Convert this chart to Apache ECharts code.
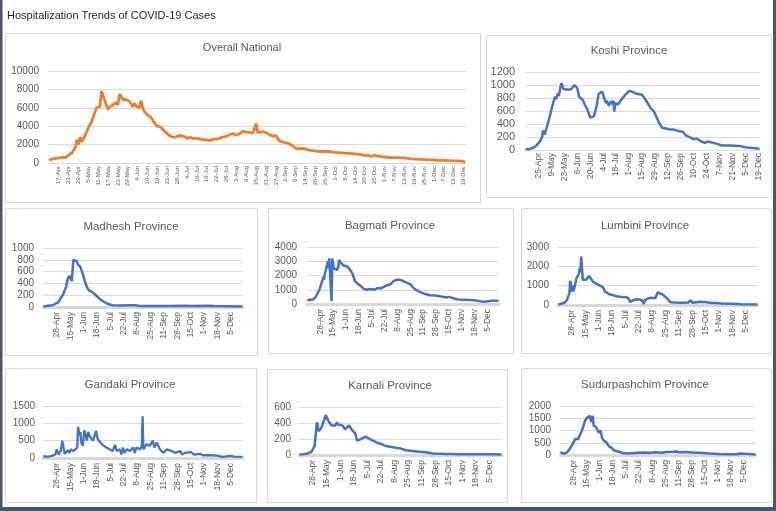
<!DOCTYPE html>
<html>
<head>
<meta charset="utf-8">
<script src="https://cdn.jsdelivr.net/npm/echarts@6/dist/echarts.min.js"></script>
<style>html,body{margin:0;padding:0;background:#fff;}#c{width:776px;height:511px;}</style>
</head>
<body>
<div id="c"></div>
<script>
// ---------- DATA ----------
const chartTitle = 'Hospitalization Trends of COVID-19 Cases';
const panelTitles = ['Overall National','Koshi Province','Madhesh Province','Bagmati Province','Lumbini Province','Gandaki Province','Karnali Province','Sudurpashchim Province'];

const nationalTicks = ['17-Apr','23-Apr','29-Apr','5-May','11-May','17-May','23-May','29-May','4-Jun','10-Jun','16-Jun','22-Jun','28-Jun','4-Jul','10-Jul','16-Jul','22-Jul','28-Jul','3-Aug','9-Aug','15-Aug','21-Aug','27-Aug','2-Sep','8-Sep','14-Sep','20-Sep','26-Sep','2-Oct','8-Oct','14-Oct','20-Oct','26-Oct','1-Nov','7-Nov','13-Nov','19-Nov','25-Nov','1-Dec','7-Dec','13-Dec','19-Dec'];
const koshiTicks = ['25-Apr','9-May','23-May','6-Jun','20-Jun','4-Jul','18-Jul','1-Aug','15-Aug','29-Aug','12-Sep','26-Sep','10-Oct','24-Oct','7-Nov','21-Nov','5-Dec','19-Dec'];
const provinceTicks = ['28-Apr','15-May','1-Jun','18-Jun','5-Jul','22-Jul','8-Aug','25-Aug','11-Sep','28-Sep','15-Oct','1-Nov','18-Nov','5-Dec'];

const national = [['11-Apr',350],['14-Apr',450],['17-Apr',550],['19-Apr',600],['21-Apr',600],['23-Apr',850],['25-Apr',1100],['27-Apr',1600],['28-Apr',2500],['29-Apr',2000],['30-Apr',2800],['1-May',2300],['2-May',2600],['3-May',3000],['5-May',3800],['7-May',4500],['9-May',5500],['10-May',6000],['11-May',6100],['12-May',6100],['13-May',7800],['14-May',7300],['15-May',6800],['16-May',6600],['17-May',5800],['18-May',6100],['20-May',6300],['22-May',6600],['23-May',6300],['24-May',7500],['25-May',7400],['26-May',6900],['28-May',6900],['30-May',6700],['31-May',6500],['1-Jun',6100],['2-Jun',6500],['3-Jun',6200],['4-Jun',6100],['5-Jun',6000],['6-Jun',6800],['7-Jun',6000],['8-Jun',5600],['10-Jun',5200],['12-Jun',5000],['14-Jun',4400],['16-Jun',4000],['18-Jun',3900],['20-Jun',3500],['22-Jun',3200],['24-Jun',2900],['26-Jun',2800],['28-Jun',2900],['30-Jun',3000],['2-Jul',2900],['4-Jul',2700],['6-Jul',2800],['8-Jul',2650],['10-Jul',2700],['12-Jul',2600],['14-Jul',2550],['16-Jul',2500],['18-Jul',2450],['20-Jul',2600],['22-Jul',2600],['24-Jul',2700],['26-Jul',2850],['28-Jul',2900],['30-Jul',3100],['1-Aug',3200],['3-Aug',3000],['5-Aug',3200],['7-Aug',3450],['9-Aug',3350],['11-Aug',3300],['13-Aug',3250],['14-Aug',3300],['15-Aug',4300],['16-Aug',3300],['17-Aug',3500],['19-Aug',3400],['21-Aug',3300],['23-Aug',3100],['25-Aug',2900],['26-Aug',2800],['27-Aug',3000],['28-Aug',2900],['29-Aug',2400],['31-Aug',2300],['2-Sep',2200],['4-Sep',2100],['6-Sep',1900],['8-Sep',1600],['10-Sep',1550],['12-Sep',1600],['14-Sep',1500],['16-Sep',1400],['18-Sep',1350],['20-Sep',1300],['24-Sep',1250],['28-Sep',1250],['2-Oct',1150],['6-Oct',1100],['10-Oct',1050],['14-Oct',1000],['18-Oct',900],['20-Oct',800],['22-Oct',850],['24-Oct',700],['26-Oct',850],['28-Oct',750],['1-Nov',650],['5-Nov',600],['9-Nov',580],['13-Nov',550],['17-Nov',450],['21-Nov',420],['25-Nov',380],['29-Nov',350],['3-Dec',300],['7-Dec',280],['11-Dec',250],['15-Dec',230],['18-Dec',200],['20-Dec',100]];

const koshi = [['11-Apr',10],['15-Apr',15],['18-Apr',25],['20-Apr',40],['23-Apr',70],['25-Apr',100],['27-Apr',140],['29-Apr',200],['30-Apr',300],['1-May',320],['2-May',240],['3-May',300],['5-May',400],['7-May',500],['9-May',620],['11-May',730],['13-May',820],['14-May',780],['15-May',800],['16-May',870],['17-May',830],['19-May',980],['20-May',1030],['21-May',1020],['22-May',940],['24-May',940],['26-May',930],['28-May',945],['30-May',930],['1-Jun',900],['3-Jun',1000],['5-Jun',1010],['6-Jun',950],['8-Jun',820],['10-Jun',790],['12-Jun',770],['14-Jun',700],['16-Jun',650],['18-Jun',580],['20-Jun',500],['22-Jun',480],['24-Jun',520],['26-Jun',540],['27-Jun',680],['29-Jun',860],['1-Jul',860],['3-Jul',900],['5-Jul',800],['7-Jul',720],['8-Jul',760],['10-Jul',680],['12-Jul',750],['14-Jul',700],['15-Jul',760],['16-Jul',590],['17-Jul',720],['20-Jul',700],['22-Jul',720],['24-Jul',780],['26-Jul',800],['28-Jul',850],['30-Jul',880],['1-Aug',910],['4-Aug',900],['8-Aug',870],['11-Aug',860],['13-Aug',840],['15-Aug',850],['17-Aug',810],['19-Aug',770],['22-Aug',700],['24-Aug',650],['28-Aug',590],['30-Aug',560],['2-Sep',430],['4-Sep',380],['6-Sep',340],['10-Sep',330],['13-Sep',320],['15-Sep',300],['19-Sep',310],['21-Sep',280],['24-Sep',290],['28-Sep',280],['1-Oct',230],['5-Oct',200],['9-Oct',170],['14-Oct',170],['18-Oct',130],['22-Oct',110],['25-Oct',130],['31-Oct',110],['5-Nov',90],['9-Nov',70],['18-Nov',70],['29-Nov',60],['6-Dec',40],['13-Dec',30],['20-Dec',20]];

const madhesh = [['11-Apr',10],['17-Apr',20],['23-Apr',30],['27-Apr',60],['30-Apr',80],['3-May',150],['6-May',210],['8-May',240],['10-May',350],['12-May',480],['14-May',530],['15-May',500],['16-May',540],['17-May',440],['18-May',600],['19-May',800],['21-May',810],['23-May',780],['25-May',720],['27-May',750],['28-May',680],['31-May',560],['2-Jun',470],['4-Jun',380],['6-Jun',320],['8-Jun',280],['11-Jun',260],['15-Jun',220],['19-Jun',170],['23-Jun',120],['28-Jun',80],['2-Jul',50],['8-Jul',30],['17-Jul',25],['1-Aug',30],['6-Aug',30],['12-Aug',15],['15-Sep',15],['6-Oct',20],['18-Oct',15],['5-Nov',22],['15-Nov',15],['20-Dec',10]];

const bagmati = [['11-Apr',250],['14-Apr',300],['18-Apr',300],['20-Apr',330],['22-Apr',500],['24-Apr',700],['27-Apr',1000],['29-Apr',1100],['1-May',1700],['2-May',1900],['3-May',1700],['4-May',2100],['5-May',2300],['7-May',2400],['8-May',3000],['9-May',2500],['10-May',3200],['12-May',3200],['13-May',200],['14-May',3200],['15-May',3100],['16-May',2500],['18-May',2500],['20-May',2400],['22-May',2600],['23-May',3100],['25-May',2900],['27-May',2800],['29-May',2700],['31-May',2600],['2-Jun',2650],['5-Jun',2500],['7-Jun',2400],['9-Jun',2200],['11-Jun',1900],['13-Jun',1600],['17-Jun',1400],['20-Jun',1300],['22-Jun',1200],['25-Jun',1050],['29-Jun',1000],['3-Jul',1050],['8-Jul',1000],['12-Jul',1100],['17-Jul',1100],['21-Jul',1200],['25-Jul',1300],['30-Jul',1400],['3-Aug',1600],['7-Aug',1700],['12-Aug',1700],['16-Aug',1600],['20-Aug',1500],['25-Aug',1400],['28-Aug',1200],['31-Aug',1050],['5-Sep',900],['9-Sep',800],['14-Sep',700],['20-Sep',620],['27-Sep',600],['3-Oct',550],['8-Oct',500],['12-Oct',450],['16-Oct',500],['21-Oct',400],['27-Oct',320],['5-Nov',300],['14-Nov',280],['20-Nov',250],['25-Nov',200],['29-Nov',150],['6-Dec',200],['10-Dec',220],['20-Dec',230]];

const lumbini = [['11-Apr',30],['15-Apr',70],['18-Apr',100],['20-Apr',150],['22-Apr',250],['23-Apr',400],['25-Apr',600],['26-Apr',1250],['27-Apr',1100],['28-Apr',700],['29-Apr',1000],['30-Apr',700],['2-May',1000],['4-May',1400],['6-May',1300],['7-May',1600],['8-May',1900],['9-May',1700],['10-May',2500],['11-May',2400],['12-May',1300],['14-May',1200],['16-May',1300],['18-May',1200],['20-May',1500],['22-May',1400],['25-May',1200],['29-May',1100],['3-Jun',1000],['7-Jun',900],['9-Jun',700],['11-Jun',600],['15-Jun',550],['20-Jun',500],['24-Jun',450],['28-Jun',430],['2-Jul',420],['6-Jul',400],['9-Jul',350],['11-Jul',150],['13-Jul',100],['15-Jul',250],['19-Jul',300],['24-Jul',280],['27-Jul',200],['28-Jul',50],['30-Jul',250],['3-Aug',350],['7-Aug',370],['12-Aug',350],['15-Aug',650],['18-Aug',600],['21-Aug',550],['24-Aug',450],['28-Aug',300],['31-Aug',150],['4-Sep',130],['15-Sep',120],['23-Sep',130],['26-Sep',250],['28-Sep',120],['8-Oct',170],['14-Oct',150],['23-Oct',100],['29-Oct',100],['4-Nov',80],['17-Nov',60],['30-Nov',40],['20-Dec',20]];

const gandaki = [['11-Apr',60],['15-Apr',30],['19-Apr',50],['23-Apr',70],['26-Apr',100],['28-Apr',250],['30-Apr',100],['3-May',200],['5-May',500],['7-May',480],['8-May',120],['10-May',150],['12-May',220],['14-May',150],['16-May',250],['19-May',200],['21-May',250],['24-May',300],['25-May',900],['27-May',650],['28-May',750],['29-May',450],['31-May',350],['2-Jun',800],['4-Jun',650],['5-Jun',500],['7-Jun',750],['9-Jun',620],['11-Jun',600],['13-Jun',500],['15-Jun',450],['17-Jun',780],['19-Jun',550],['21-Jun',500],['24-Jun',400],['26-Jun',350],['30-Jun',300],['4-Jul',250],['8-Jul',200],['11-Jul',380],['13-Jul',200],['17-Jul',250],['19-Jul',100],['21-Jul',300],['23-Jul',150],['26-Jul',250],['28-Jul',300],['30-Jul',200],['3-Aug',300],['5-Aug',150],['7-Aug',300],['12-Aug',250],['14-Aug',350],['15-Aug',1200],['16-Aug',250],['18-Aug',300],['20-Aug',400],['24-Aug',350],['28-Aug',500],['30-Aug',300],['2-Sep',450],['4-Sep',350],['6-Sep',250],['10-Sep',150],['15-Sep',250],['17-Sep',200],['21-Sep',200],['25-Sep',150],['2-Oct',200],['4-Oct',100],['8-Oct',150],['15-Oct',180],['19-Oct',100],['27-Oct',120],['30-Oct',80],['9-Nov',80],['18-Nov',70],['24-Nov',30],['5-Dec',60],['9-Dec',40],['20-Dec',30]];

const karnali = [['11-Apr',5],['16-Apr',10],['20-Apr',15],['22-Apr',30],['26-Apr',40],['28-Apr',60],['30-Apr',110],['2-May',110],['3-May',410],['5-May',300],['6-May',280],['8-May',330],['10-May',380],['12-May',400],['14-May',500],['15-May',480],['17-May',430],['19-May',400],['21-May',370],['23-May',380],['26-May',370],['28-May',410],['29-May',380],['31-May',380],['4-Jun',370],['7-Jun',320],['9-Jun',340],['12-Jun',370],['14-Jun',360],['16-Jun',310],['18-Jun',300],['20-Jun',270],['22-Jun',180],['25-Jun',190],['29-Jun',210],['3-Jul',230],['6-Jul',210],['10-Jul',190],['14-Jul',170],['18-Jul',150],['22-Jul',140],['26-Jul',120],['30-Jul',110],['4-Aug',100],['10-Aug',90],['16-Aug',80],['22-Aug',60],['31-Aug',50],['8-Sep',40],['16-Sep',35],['25-Sep',20],['7-Oct',15],['28-Oct',10],['9-Dec',10],['20-Dec',5]];

const sudurpashchim = [['11-Apr',120],['13-Apr',50],['15-Apr',50],['17-Apr',80],['19-Apr',100],['22-Apr',200],['24-Apr',300],['26-Apr',400],['28-Apr',500],['30-Apr',650],['2-May',700],['4-May',650],['6-May',800],['9-May',1000],['11-May',1200],['13-May',1400],['15-May',1500],['17-May',1550],['19-May',1600],['21-May',1350],['22-May',1300],['23-May',1600],['24-May',1200],['27-May',1150],['29-May',1100],['31-May',900],['2-Jun',1000],['4-Jun',700],['6-Jun',600],['10-Jun',500],['13-Jun',350],['16-Jun',300],['19-Jun',200],['23-Jun',150],['27-Jun',120],['1-Jul',80],['8-Jul',60],['16-Jul',80],['27-Jul',100],['5-Aug',90],['13-Aug',110],['20-Aug',90],['26-Aug',120],['4-Sep',130],['8-Sep',140],['12-Sep',110],['21-Sep',120],['29-Sep',100],['8-Oct',90],['21-Oct',60],['3-Nov',40],['11-Nov',30],['24-Nov',30],['1-Dec',60],['3-Dec',35],['20-Dec',20]];

// ---------- CATEGORIES (daily) ----------
const MONTHS = ['Jan','Feb','Mar','Apr','May','Jun','Jul','Aug','Sep','Oct','Nov','Dec'];
const categories = [];
for (let d = new Date(2021, 3, 11); d <= new Date(2021, 11, 20); d.setDate(d.getDate() + 1)) {
  categories.push(d.getDate() + '-' + MONTHS[d.getMonth()]);
}

// ---------- LAYOUT ----------
const FONT = '"Liberation Sans", Arial, sans-serif';
const TXT = '#595959';
const GRIDC = '#d9d9d9';
const panels = [
  {data: national, ticks: nationalTicks, color:'#ED7D31', lw:2.8, box:[5,33,475,169], tx:242, ty:49, ts:11, grid:{left:48,top:71,width:418,height:92}, max:10000, step:2000, yf:10, ym:9, xf:6, xm:3, aw:1},
  {data: koshi, ticks: koshiTicks, color:'#4472C4', lw:2.5, box:[486,35,285,162], tx:629, ty:52, ts:11.5, grid:{left:525,top:72,width:235,height:78}, max:1200, step:200, yf:11, ym:10, xf:8.5, xm:3, aw:1},
  {data: madhesh, ticks: provinceTicks, color:'#4472C4', lw:2.5, box:[5,208,252,147], tx:131, ty:228, ts:11.5, grid:{left:43,top:248,width:200,height:59}, max:1000, step:200, yf:10, ym:9, xf:8.5, xm:5, aw:3},
  {data: bagmati, ticks: provinceTicks, color:'#4472C4', lw:2.5, box:[268,208,245,145], tx:390, ty:227, ts:11.5, grid:{left:307,top:247,width:192,height:57}, max:4000, step:1000, yf:10, ym:10, xf:8.5, xm:5, aw:3},
  {data: lumbini, ticks: provinceTicks, color:'#4472C4', lw:2.5, box:[521,208,250,145], tx:645, ty:227, ts:11.5, grid:{left:558,top:247,width:200,height:58}, max:3000, step:1000, yf:10, ym:9, xf:8.5, xm:5, aw:3},
  {data: gandaki, ticks: provinceTicks, color:'#4472C4', lw:2.3, box:[5,368,251,134], tx:130, ty:386, ts:11.5, grid:{left:43,top:406,width:200,height:52}, max:1500, step:500, yf:10, ym:8, xf:8.5, xm:5, aw:3},
  {data: karnali, ticks: provinceTicks, color:'#4472C4', lw:2.5, box:[267,369,240,133], tx:390, ty:387, ts:11.5, grid:{left:299,top:407,width:203,height:48}, max:600, step:200, yf:10, ym:8, xf:8.5, xm:5, aw:3},
  {data: sudurpashchim, ticks: provinceTicks, color:'#4472C4', lw:2.5, box:[521,368,250,134], tx:645, ty:386, ts:11.5, grid:{left:560,top:406,width:196,height:49}, max:2000, step:500, yf:10, ym:9, xf:8.5, xm:5, aw:3}
];

const option = {
  backgroundColor: '#ffffff',
  animation: false,
  title: [{text: chartTitle, left: 7, top: 10, padding: 0,
           textStyle: {fontSize: 11, fontWeight: 'normal', color: '#262626', fontFamily: FONT}}],
  grid: [], xAxis: [], yAxis: [], series: [],
  graphic: [
    {type:'rect', shape:{x:0,y:0,width:2.5,height:511}, style:{fill:'#4a5568'}, silent:true},
    {type:'rect', shape:{x:773,y:0,width:3,height:511}, style:{fill:'#4a5568'}, silent:true},
    {type:'rect', shape:{x:0,y:507,width:776,height:4}, style:{fill:'#4a5568'}, silent:true}
  ]
};

panels.forEach((p, i) => {
  const tickSet = new Set(p.ticks);
  option.title.push({text: panelTitles[i], left: p.tx, top: p.ty - p.ts * 0.62, padding: 0, textAlign: 'center',
    textStyle: {fontSize: p.ts, fontWeight: 'normal', color: TXT, fontFamily: FONT}});
  option.graphic.push({type:'rect', shape:{x:p.box[0]+0.5, y:p.box[1]+0.5, width:p.box[2], height:p.box[3]},
    style:{fill:'none', stroke:GRIDC, lineWidth:1}, silent:true});
  option.grid.push(Object.assign({containLabel:false}, p.grid));
  option.xAxis.push({
    type: 'category', gridIndex: i, data: categories, boundaryGap: true,
    axisLine: {show: true, lineStyle: {color: GRIDC, width: p.aw}},
    axisTick: {show: false},
    splitLine: {show: false},
    axisLabel: {interval: (idx, val) => tickSet.has(val), rotate: 90, fontSize: p.xf, color: TXT,
      fontFamily: FONT, margin: p.xm}
  });
  option.yAxis.push({
    type: 'value', gridIndex: i, min: 0, max: p.max, interval: p.step,
    axisLine: {show: false}, axisTick: {show: false},
    splitLine: {lineStyle: {color: GRIDC, width: 1}},
    axisLabel: {fontSize: p.yf, color: TXT, fontFamily: FONT, margin: p.ym, formatter: v => String(v)}
  });
  option.series.push({
    type: 'line', xAxisIndex: i, yAxisIndex: i, data: p.data, showSymbol: false, symbol: 'none',
    lineStyle: {color: p.color, width: p.lw}, itemStyle: {color: p.color}, z: 5
  });
});

const chart = echarts.init(document.getElementById('c'), null, {renderer: 'canvas'});
chart.setOption(option);
</script>
</body>
</html>
